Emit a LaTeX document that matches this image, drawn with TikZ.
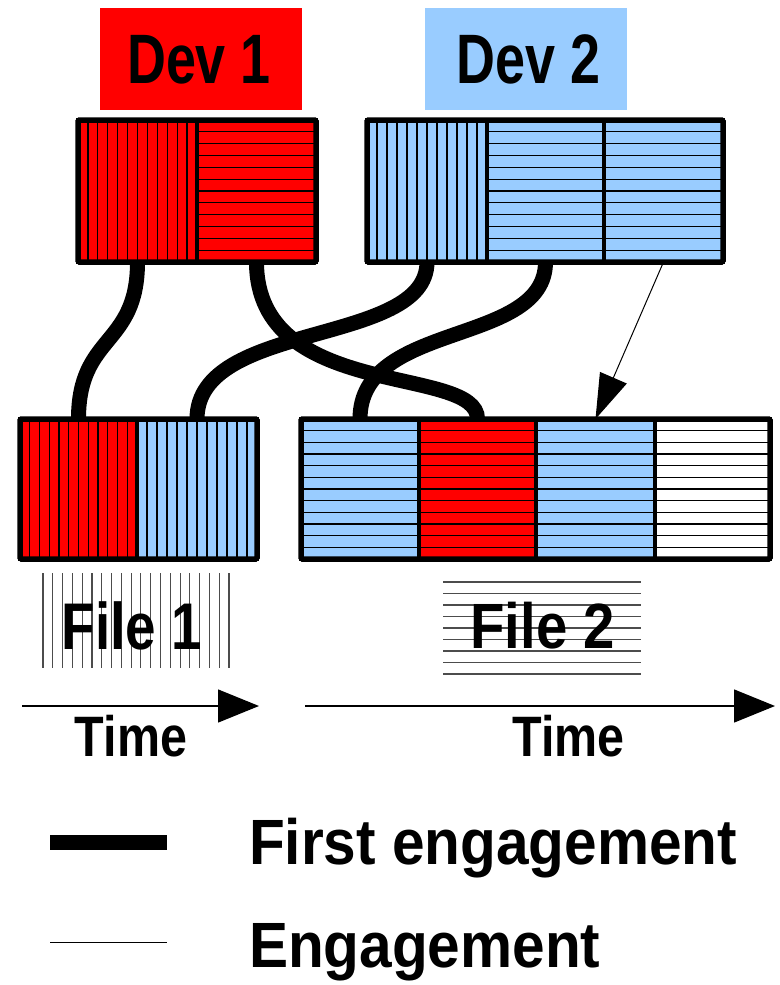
\documentclass[tikz,border=0pt]{standalone}
\usepackage{fontspec}
\setmainfont{Liberation Sans}
\usetikzlibrary{arrows.meta,calc}
\definecolor{devred}{HTML}{FF0000}
\definecolor{devblue}{HTML}{99CCFF}
\pgfdeclarelayer{bg}
\pgfsetlayers{bg,main}
\newcommand\lbl[3]{\scalebox{#2}[1]{\fontsize{#1}{#1}\selectfont\bfseries #3}}
\tikzset{
  hatchline/.style={black, line width=1.2pt},
  cell/.style={rectangle, inner sep=0pt, outer sep=0pt, draw=black, line width=3.5pt},
  vh/.style={path picture={
     \foreach \k in {1,...,11}{
       \draw[hatchline] ($(path picture bounding box.north west)!\k/12!(path picture bounding box.north east)$) -- ($(path picture bounding box.south west)!\k/12!(path picture bounding box.south east)$);}}},
  hh/.style={path picture={
     \foreach \k in {1,...,11}{
       \draw[hatchline] ($(path picture bounding box.north west)!\k/12!(path picture bounding box.south west)$) -- ($(path picture bounding box.north east)!\k/12!(path picture bounding box.south east)$);}}},
  frame/.style={draw=black, line width=5.5pt, rounded corners=1.5pt},
  devbox/.style={rectangle, inner sep=0pt, outer sep=0pt, minimum width=202pt, minimum height=102pt},
  lab/.style={inner sep=0pt, outer sep=0pt, anchor=base},
  first/.style={line width=15pt},
  engage/.style={line width=1pt, -{Triangle[length=45pt,width=29pt]}},
  timearrow/.style={line width=1.4pt, -{Triangle[length=41pt,width=33pt]}},
  filehatch/.style={black!70, line width=1.1pt}
}
\begin{document}
\begin{tikzpicture}[x=1pt,y=-1pt]
\useasboundingbox (0,0) rectangle (779,985);

% developer labels
\node[devbox, fill=devred] (dev1) at (201,59) {};
\node[devbox, fill=devblue] (dev2) at (525.5,59) {};
\node[lab] (dev1t) at (199,83) {\lbl{70}{0.77}{Dev 1}};
\node[lab] (dev2t) at (528.5,83) {\lbl{70}{0.77}{Dev 2}};

% top-left (Dev 1)
\node[cell, vh, fill=devred, minimum width=119pt, minimum height=142pt] (tl1) at (137.5,191) {};
\node[cell, hh, fill=devred, minimum width=119pt, minimum height=142pt] (tl2) at (256.5,191) {};
\draw[frame] (tl1.north west) rectangle (tl2.south east);

% top-right (Dev 2)
\node[cell, vh, fill=devblue, minimum width=120pt, minimum height=142pt] (tr1) at (427,191) {};
\node[cell, hh, fill=devblue, minimum width=117pt, minimum height=142pt] (tr2) at (545.5,191) {};
\node[cell, hh, fill=devblue, minimum width=119pt, minimum height=142pt] (tr3) at (663.5,191) {};
\draw[frame] (tr1.north west) rectangle (tr3.south east);

% bottom-left (File 1)
\node[cell, vh, fill=devred, minimum width=117pt, minimum height=140pt] (bl1) at (78.5,489) {};
\node[cell, vh, fill=devblue, minimum width=120pt, minimum height=140pt] (bl2) at (197,489) {};
\draw[frame] (bl1.north west) rectangle (bl2.south east);

% bottom-right (File 2)
\node[cell, hh, fill=devblue, minimum width=118pt, minimum height=140pt] (br1) at (360,489) {};
\node[cell, hh, fill=devred, minimum width=117pt, minimum height=140pt] (br2) at (477.5,489) {};
\node[cell, hh, fill=devblue, minimum width=119pt, minimum height=140pt] (br3) at (595.5,489) {};
\node[cell, hh, fill=white, minimum width=115pt, minimum height=140pt] (br4) at (712.5,489) {};
\draw[frame] (br1.north west) rectangle (br4.south east);

% connectors
\begin{pgfonlayer}{bg}
\draw[first] (tl1.south) .. controls +(0,85) and +(0,-85) .. (bl1.north);
\draw[first] (tl2.south) .. controls +(0,140) and +(0,-55) .. (br2.north);
\draw[first] (tr1.south) .. controls +(0,85) and +(0,-99) .. (bl2.north);
\draw[first] (tr2.south) .. controls +(0,85) and +(0,-99) .. (br1.north);
\end{pgfonlayer}
\draw[engage] (tr3.south) -- (br3.north);

% file labels
\foreach \k in {0,...,19}{
  \draw[filehatch] ({43+\k*9.79},573) -- ({43+\k*9.79},668);
}
\node[lab] (file1) at (132,649) {\lbl{66}{0.83}{File 1}};
\foreach \k in {0,...,8}{
  \draw[filehatch] (443,{582+\k*11.5}) -- (641,{582+\k*11.5});
}
\node[lab] (file2) at (542.5,648) {\lbl{64}{0.88}{File 2}};

% time axes
\coordinate (t1a) at (22,706);
\coordinate (t1b) at (259,706);
\coordinate (t2a) at (305,706);
\coordinate (t2b) at (775,706);
\draw[timearrow] (t1a) -- (t1b);
\draw[timearrow] (t2a) -- (t2b);
\node[lab] (time1) at (131,756) {\lbl{57}{0.85}{Time}};
\node[lab] (time2) at (568.5,756) {\lbl{57}{0.85}{Time}};

% legend
\coordinate (l1a) at (50,842);
\coordinate (l1b) at (167,842);
\coordinate (l2a) at (50,942);
\coordinate (l2b) at (167,942);
\draw[line width=15pt] (l1a) -- (l1b);
\draw[line width=1pt] (l2a) -- (l2b);
\node[lab, anchor=base west] (leg1) at (249,864) {\lbl{64}{0.915}{First engagement}};
\node[lab, anchor=base west] (leg2) at (249,967) {\lbl{64}{0.915}{Engagement}};
\end{tikzpicture}
\end{document}
